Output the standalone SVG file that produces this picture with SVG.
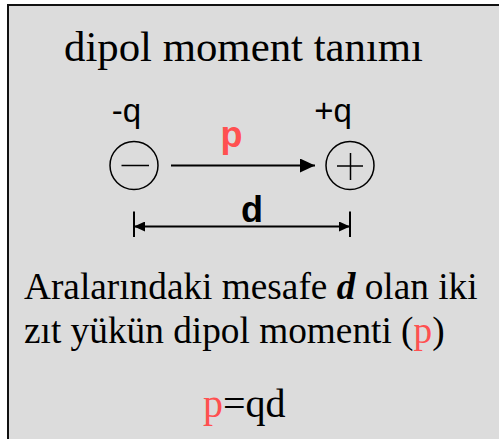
<svg xmlns="http://www.w3.org/2000/svg" width="499" height="439" viewBox="0 0 499 439">
<defs>
<style>
.serif{font-family:"Liberation Serif","Times New Roman",serif;fill:#000}
.sans{font-family:"Liberation Sans",Arial,sans-serif;fill:#000}
.red{fill:#ff5050}
.ln{stroke:#000;stroke-width:2;fill:none}
.cl{stroke:#000;stroke-width:1.5;fill:none}
</style>
<marker id="ah" markerWidth="15" markerHeight="14" refX="15" refY="7" orient="auto" markerUnits="userSpaceOnUse">
<path d="M0,0 L15,7 L0,14 Z" fill="#000"/>
</marker>
<marker id="dh" markerWidth="11" markerHeight="10" refX="11" refY="5" orient="auto-start-reverse" markerUnits="userSpaceOnUse">
<path d="M0,0 L11,5 L0,10 Z" fill="#000"/>
</marker>
</defs>
<rect x="0" y="0" width="499" height="439" fill="#fff"/>
<rect x="8" y="5" width="500" height="445" fill="#dcdcdc" stroke="#111" stroke-width="2"/>
<text class="serif" x="64" y="61" font-size="42.8">dipol moment tanımı</text>
<g id="neg">
<circle cx="134" cy="165.5" r="24" class="cl"/>
<line x1="121.5" y1="165.5" x2="149" y2="165.5" class="cl"/>
<text class="sans" x="126.5" y="121.5" font-size="33" text-anchor="middle">-q</text>
</g>
<g id="pos">
<circle cx="350" cy="165.5" r="24" class="cl"/>
<line x1="337" y1="166" x2="363" y2="166" class="cl"/>
<line x1="350.5" y1="153" x2="350.5" y2="180" class="cl"/>
<text class="sans" x="333" y="121.5" font-size="33" text-anchor="middle">+q</text>
</g>
<g id="connectors">
<line x1="171" y1="165.5" x2="315" y2="165.5" class="ln" marker-end="url(#ah)"/>
<line x1="134" y1="226.5" x2="350" y2="226.5" class="ln" marker-start="url(#dh)" marker-end="url(#dh)"/>
<line x1="134" y1="211.5" x2="134" y2="237" class="ln"/>
<line x1="350" y1="211.5" x2="350" y2="237" class="ln"/>
</g>
<text class="sans red" x="231.5" y="147" font-size="36" font-weight="bold" text-anchor="middle">p</text>
<text class="sans" x="252" y="221.5" font-size="36" font-weight="bold" text-anchor="middle">d</text>
<text class="serif" x="24" y="298.5" font-size="37.3">Aralarındaki mesafe <tspan font-weight="bold" font-style="italic">d</tspan> olan iki</text>
<text class="serif" x="24" y="342.5" font-size="37.3">zıt yükün dipol momenti (<tspan class="red">p</tspan>)</text>
<text class="serif" x="203" y="417" font-size="40"><tspan class="red">p</tspan>=qd</text>
</svg>
